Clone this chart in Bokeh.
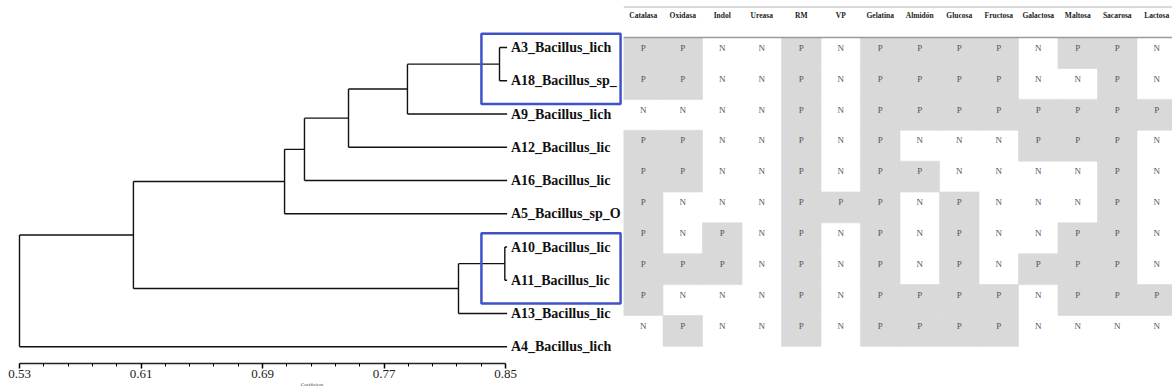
from bokeh.plotting import figure
from bokeh.models import (Range1d, FixedTicker, PrintfTickFormatter, BoxAnnotation,
                          Span, ColumnDataSource)
from bokeh.layouts import row
from bokeh.embed import file_html
from bokeh.resources import INLINE
from bokeh.core.properties import value

# ---------------- data ----------------
strains = ["A3_Bacillus_lich", "A18_Bacillus_sp_", "A9_Bacillus_lich", "A12_Bacillus_lic",
           "A16_Bacillus_lic", "A5_Bacillus_sp_O", "A10_Bacillus_lic", "A11_Bacillus_lic",
           "A13_Bacillus_lic", "A4_Bacillus_lich"]

tests = ["Catalasa", "Oxidasa", "Indol", "Ureasa", "RM", "VP", "Gelatina", "Almidón",
         "Glucosa", "Fructosa", "Galactosa", "Maltosa", "Sacarosa", "Lactosa"]

results = [
    "PPNNPNPPPPNPPN",  # A3
    "PPNNPNPPPPNNPN",  # A18
    "NNNNPNPPPPPPPP",  # A9
    "PPNNPNPNNNPPPN",  # A12
    "PPNNPNPPNNNNPN",  # A16
    "PNNNPPPNPNNNPN",  # A5
    "PNPNPNPNPNNPPN",  # A10
    "PPPNPNPNPNPPPN",  # A11
    "PNNNPNPPPPNPPP",  # A13
    "NPNNPNPPPPNNNN",  # A4
]

# dendrogram merges (leaves 0..9, internal nodes 10..)
merge_left = [0, 10, 11, 12, 13, 6, 15, 14, 17]
merge_right = [1, 2, 3, 4, 5, 7, 8, 16, 9]
merge_coef = [0.846, 0.7854, 0.7466, 0.7176, 0.7045, 0.8495, 0.819, 0.605, 0.53]
leaf_coef = 0.851

axis_ticks = [0.53, 0.61, 0.69, 0.77, 0.85]
highlight_groups = [(0, 1), (6, 7)]

# ---------------- layout constants ----------------
SERIF = "Liberation Serif"
ROW_PX = 33.25
FIRST_ROW_PX = 47.0          # first row centre, px below figure top
LEFT_W, RIGHT_W, H = 623, 549, 391
LEFT_FRAME_H = 363
PX_PER_UNIT = 1519.0
X0_PX = 19.0                 # px of coefficient 0.53 from left edge
COL_PX = 39.5

y_top = -FIRST_ROW_PX / ROW_PX
left_y = Range1d((LEFT_FRAME_H - FIRST_ROW_PX) / ROW_PX, y_top)
right_y = Range1d((H - FIRST_ROW_PX) / ROW_PX, y_top)
left_x = Range1d(0.53 - X0_PX / PX_PER_UNIT, 0.53 + (LEFT_W - X0_PX) / PX_PER_UNIT)

# ---------------- dendrogram ----------------
p = figure(width=LEFT_W, height=H, x_range=left_x, y_range=left_y,
           output_backend="svg", toolbar_location=None, y_axis_location=None,
           min_border_left=0, min_border_right=0, min_border_top=0,
           min_border_bottom=H - LEFT_FRAME_H)
p.outline_line_color = None
p.grid.visible = False
p.background_fill_color = "white"
p.border_fill_color = "white"

pos = {i: (leaf_coef, float(i)) for i in range(len(strains))}
x0, y0, x1, y1 = [], [], [], []
for k, (l, r, c) in enumerate(zip(merge_left, merge_right, merge_coef)):
    xl, yl = pos[l]
    xr, yr = pos[r]
    x0 += [xl, xr, c]
    y0 += [yl, yr, yl]
    x1 += [c, c, c]
    y1 += [yl, yr, yr]
    pos[len(strains) + k] = (c, (yl + yr) / 2)

p.segment(x0=x0, y0=y0, x1=x1, y1=y1, line_color="#111111", line_width=1.4)

lab_src = ColumnDataSource(dict(x=[leaf_coef + 0.0025] * len(strains),
                                y=list(range(len(strains))), t=strains))
p.text(x="x", y="y", text="t", source=lab_src, text_font=value(SERIF),
       text_font_style="bold", text_font_size="14px", text_color="#111111",
       text_align="left", text_baseline="middle")

for a, b in highlight_groups:
    p.add_layout(BoxAnnotation(left=0.8341, right=0.9257, top=a - 0.41, bottom=b + 0.70,
                               fill_alpha=0, line_color="#4052c8", line_alpha=1.0,
                               line_width=2.5))

ax = p.xaxis[0]
minor = [round(t0 + (t1 - t0) * j / 5, 4) for t0, t1 in zip(axis_ticks[:-1], axis_ticks[1:])
         for j in range(1, 5)]
ax.ticker = FixedTicker(ticks=axis_ticks, minor_ticks=minor)
ax.bounds = (axis_ticks[0], axis_ticks[-1])
ax.formatter = PrintfTickFormatter(format="%.2f")
ax.major_label_text_font = SERIF
ax.major_label_text_font_size = "13px"
ax.major_label_text_color = "#222222"
ax.major_label_standoff = 1
ax.major_tick_out = 5
ax.major_tick_in = 0
ax.minor_tick_out = 3
ax.minor_tick_in = 0
ax.axis_line_width = 1.5
ax.axis_line_color = "#222222"
ax.major_tick_line_width = 1.5
ax.axis_label = "Coefficient"
ax.axis_label_text_font = SERIF
ax.axis_label_text_font_size = "5px"
ax.axis_label_text_font_style = "normal"
ax.axis_label_standoff = 1

# ---------------- binary matrix ----------------
q = figure(width=RIGHT_W, height=H, x_range=Range1d(0, RIGHT_W / COL_PX), y_range=right_y,
           output_backend="svg", toolbar_location=None, x_axis_location=None,
           y_axis_location=None, min_border=0)
q.outline_line_color = None
q.grid.visible = False
q.background_fill_color = "white"
q.border_fill_color = "white"

cx, cy, tx, ty, tt = [], [], [], [], []
for r, rs in enumerate(results):
    for c, v in enumerate(rs):
        if v == "P":
            cx.append(c + 0.5)
            cy.append(r + 0.29)
        tx.append(c + 0.5)
        ty.append(r + 0.12)
        tt.append(v)

q.rect(x=cx, y=cy, width=1, height=1, fill_color="#d9d9d9", line_color="#d9d9d9",
       line_width=0.6)
q.text(x=tx, y=ty, text=tt, text_font=value(SERIF), text_font_size="9px",
       text_color="#555555", text_align="center", text_baseline="middle")

q.text(x=[i + 0.5 for i in range(len(tests))], y=[-0.93] * len(tests), text=tests,
       text_font=value(SERIF), text_font_style="bold", text_font_size="7.5px",
       text_color="#222222", text_align="center", text_baseline="middle")

q.add_layout(Span(location=-1.203, dimension="width", line_color="#b5b5b5", line_width=1.2))
q.add_layout(Span(location=-0.215, dimension="width", line_color="#9a9a9a", line_width=1.6))

layout = row(p, q, spacing=0)
open("out.html", "w").write(file_html(layout, INLINE))
